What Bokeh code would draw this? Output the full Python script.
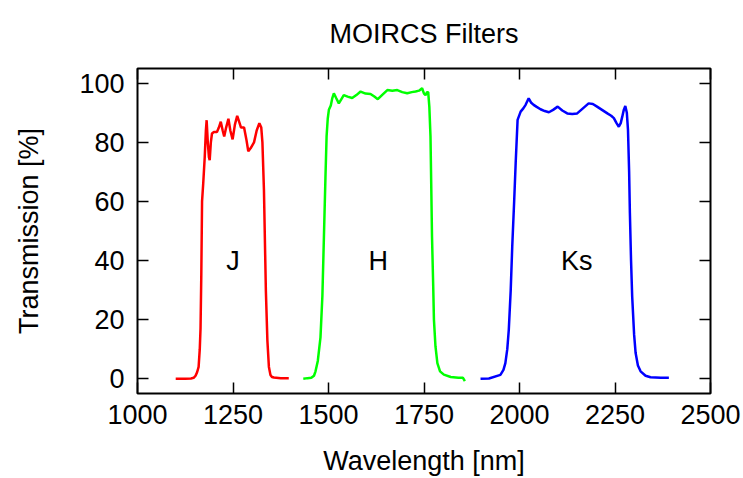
from bokeh.plotting import figure
from bokeh.models import LinearAxis, FixedTicker, ColumnDataSource, Range1d
from bokeh.core.properties import value
from bokeh.embed import file_html
from bokeh.resources import INLINE

# ---- data ----
J_wl = [1100, 1125, 1140, 1147, 1152, 1156, 1160, 1163, 1165, 1167, 1169, 1172, 1176, 1179, 1181, 1184, 1187, 1189, 1192, 1195,
        1200, 1208, 1213, 1218, 1223, 1227, 1232, 1238, 1243, 1249, 1255, 1261, 1266, 1271, 1279, 1285, 1290, 1296, 1305, 1312,
        1319, 1324, 1327, 1331, 1336, 1340, 1344, 1348, 1352, 1357, 1375, 1396]
J_tr = [0, 0, 0.1, 0.3, 1, 2.2, 4, 10, 17, 35, 60, 66, 75, 84, 87.5, 80, 75, 74, 80, 83,
        83.5, 83.5, 85, 87, 84, 82, 85, 88, 84, 81, 86, 89, 87, 85, 85, 81, 77, 78, 80, 84,
        86.5, 85, 80, 64, 30, 13, 4, 1.3, 0.6, 0.4, 0.2, 0.2]

H_wl = [1434, 1445, 1455, 1462, 1466, 1472, 1479, 1484, 1488, 1492, 1495, 1498, 1501, 1506, 1510, 1514, 1520, 1527, 1533, 1540,
        1550, 1562, 1573, 1584, 1597, 1610, 1620, 1629, 1640, 1654, 1667, 1680, 1693, 1706, 1718, 1728, 1737, 1745, 1750, 1754,
        1758, 1761, 1764, 1767, 1769, 1771, 1774, 1776, 1780, 1785, 1792, 1802, 1820, 1840, 1852, 1857]
H_tr = [0, 0.2, 0.3, 1, 2.5, 6, 14, 28, 48, 68, 82, 88, 91, 92.5, 95, 96.6, 95, 93.2, 94.5, 96,
        95.5, 95, 96, 97.2, 96.5, 96.4, 95.5, 94.6, 96, 97.7, 97.5, 97.7, 97, 96.6, 97, 97.2, 97.5, 98.3, 96.5, 96,
        97, 97, 92, 82, 65, 48, 32, 20, 11, 5.3, 2.5, 1.4, 0.6, 0.3, 0.3, -0.8]

K_wl = [1898, 1920, 1950, 1958, 1963, 1968, 1972, 1977, 1981, 1986, 1990, 1995, 2003, 2010, 2016, 2024, 2030, 2037, 2045, 2055,
        2066, 2077, 2088, 2100, 2112, 2125, 2138, 2151, 2166, 2181, 2192, 2203, 2216, 2230, 2240, 2247, 2254, 2260, 2265, 2269,
        2273, 2277, 2281, 2284, 2287, 2289, 2292, 2295, 2300, 2304, 2310, 2317, 2330, 2343, 2370, 2391]
K_tr = [0, 0.1, 1.3, 3, 5.3, 10, 16.6, 30, 44.7, 60, 73, 87.6, 90.4, 91.5, 92.7, 94.9, 93.5, 92.7, 92, 91.2,
        90.6, 90.2, 91, 92.1, 90.8, 89.8, 89.6, 89.8, 91.5, 93.2, 93, 92.1, 91, 89.8, 89, 88.2, 86.5, 85.3, 86.5, 88.7,
        91, 92.3, 90, 84.2, 70, 56, 40, 27.8, 15, 8.7, 4.5, 2.5, 1, 0.5, 0.3, 0.3]

label_names = ["J", "H", "Ks"]
label_x = [1250, 1630, 2150]
label_y = [40, 40, 40]

x_ticks = [1000, 1250, 1500, 1750, 2000, 2250, 2500]
y_ticks = [0, 20, 40, 60, 80, 100]

FONT = "Liberation Sans"
FS = "27px"

p = figure(width=743, height=478, output_backend="svg", toolbar_location=None,
           x_range=Range1d(1000, 2500), y_range=Range1d(-5, 105),
           min_border_left=137, min_border_right=33, min_border_top=68, min_border_bottom=85,
           title="MOIRCS Filters")
p.title.text_font = FONT
p.title.text_font_size = FS
p.title.text_font_style = "normal"
p.title.align = "center"
p.title.vertical_align = "top"
p.title.text_color = "black"
p.title.standoff = 36

p.xgrid.visible = False
p.ygrid.visible = False
p.outline_line_color = "black"
p.outline_line_width = 2
p.outline_line_alpha = 1
p.background_fill_color = "white"
p.border_fill_color = "white"

xa = p.xaxis[0]
xa.ticker = FixedTicker(ticks=x_ticks)
ya = p.yaxis[0]
ya.ticker = FixedTicker(ticks=y_ticks)
for ax in (xa, ya):
    ax.major_tick_in = 11
    ax.major_tick_out = 0
    ax.minor_tick_in = 0
    ax.minor_tick_out = 0
    ax.major_tick_line_color = "black"
    ax.major_tick_line_width = 1.5
    ax.axis_line_color = None
    ax.major_label_text_font = FONT
    ax.major_label_text_font_size = FS
    ax.major_label_text_color = "black"
    ax.axis_label_text_font = FONT
    ax.axis_label_text_font_size = FS
    ax.axis_label_text_font_style = "normal"
    ax.axis_label_text_color = "black"

xa.major_label_text_line_height = 1.0
xa.axis_label_text_line_height = 1.0
xa.axis_label = "Wavelength [nm]"
xa.major_label_standoff = 11
xa.axis_label_standoff = 19
ya.axis_label = "Transmission [%]"
ya.major_label_standoff = 13
ya.axis_label_standoff = 32

top = LinearAxis(ticker=FixedTicker(ticks=x_ticks),
                 major_label_overrides={t: "" for t in x_ticks})
right = LinearAxis(ticker=FixedTicker(ticks=y_ticks),
                   major_label_overrides={t: "" for t in y_ticks})
for ax in (top, right):
    ax.major_tick_in = 11
    ax.major_tick_out = 0
    ax.minor_tick_in = 0
    ax.minor_tick_out = 0
    ax.major_tick_line_color = "black"
    ax.major_tick_line_width = 1.5
    ax.axis_line_color = None
    ax.major_label_standoff = 0
p.add_layout(top, "above")
p.add_layout(right, "right")

p.line(J_wl, J_tr, line_color="#ff0000", line_width=2.5)
p.line(H_wl, H_tr, line_color="#00ff00", line_width=2.5)
p.line(K_wl, K_tr, line_color="#0000ff", line_width=2.5)

src = ColumnDataSource(dict(x=label_x, y=label_y, t=label_names))
p.text(x="x", y="y", text="t", source=src, text_font=value(FONT), text_font_size=value(FS),
       text_align="center", text_baseline="middle", text_color="black")

open("out.html", "w").write(file_html(p, INLINE))
